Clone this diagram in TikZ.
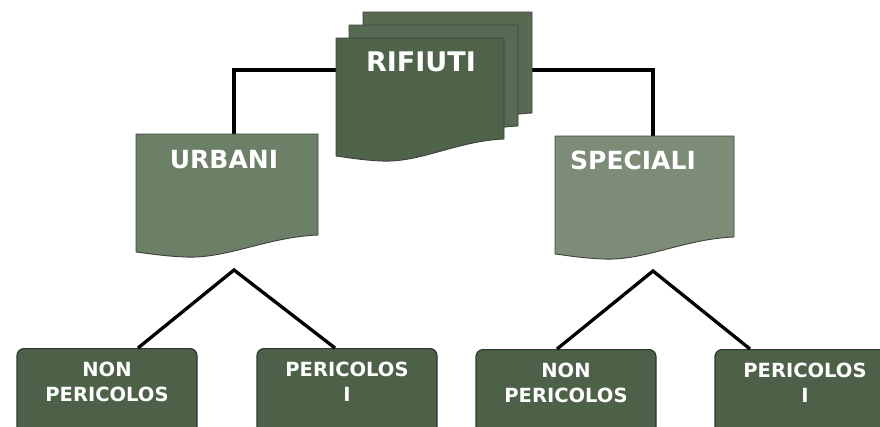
\documentclass[tikz,border=0pt]{standalone}
\usepackage{fontspec}
\setmainfont{DejaVu Sans}

\definecolor{verdescuro}{HTML}{4E6349}
\definecolor{verdefoglio}{HTML}{566B51}
\definecolor{verdeurbani}{HTML}{6C7F67}
\definecolor{verdespeciali}{HTML}{7C8C77}
\definecolor{verdebox}{HTML}{4C6147}

\tikzset{foglio/.style = {draw=black!75, line width=0.9pt},
         titolo/.style = {text=white, font=\bfseries\fontsize{25}{30}\selectfont},
         scatola/.style = {draw=black!80, line width=1.2pt, fill=verdebox,
                           rounded corners=7pt, minimum width=180pt,
                           anchor=north, align=center, inner ysep=13pt,
                           text depth=60pt, text=white,
                           font=\bfseries\fontsize{19.5}{25}\selectfont},
         ramo/.style = {line width=3.3pt, black}
        }

% documento: x, y, larghezza, colore
\newcommand\documento[4]{%
  \filldraw[foglio, fill=#4] (#1,#2) -- ({#1+#3},#2) -- ({#1+#3},{#2+101})
    .. controls ({#1+0.72*#3},{#2+103}) and ({#1+0.5*#3},{#2+125}) .. ({#1+0.27*#3},{#2+123})
    .. controls ({#1+0.14*#3},{#2+122}) and ({#1+0.05*#3},{#2+119}) .. (#1,{#2+118}) -- cycle;}

\begin{document}
\begin{tikzpicture}[x=1pt, y=-1pt]
  \path[use as bounding box, clip] (0,0) rectangle (880,426);

  \coordinate (rif sx) at (336,70);
  \coordinate (rif dx) at (532,70);
  \coordinate (urb top) at (234,134);
  \coordinate (spe top) at (653,136);
  \coordinate (urb giu) at (234,270);
  \coordinate (spe giu) at (653,271);

  \draw[ramo] (rif sx) -| (urb top);
  \draw[ramo] (rif dx) -| (spe top);

  \documento{363}{12}{169}{verdefoglio}
  \documento{349}{25}{169}{verdefoglio}
  \documento{336}{38}{168}{verdescuro}
  \documento{136}{134}{182}{verdeurbani}
  \documento{555}{136}{179}{verdespeciali}

  \node[titolo, font=\bfseries\fontsize{27}{32}\selectfont] (rifiuti) at (421,62) {RIFIUTI};
  \node[titolo] (urbani) at (224,160) {URBANI};
  \node[titolo] (speciali) at (633,160) {SPECIALI};

  \node[scatola] (urb non) at (107,348) {NON\\PERICOLOS};
  \node[scatola] (urb per) at (347,348) {PERICOLOS\\I};
  \node[scatola] (spe non) at (566,349) {NON\\PERICOLOS};
  \node[scatola] (spe per) at (805,349) {PERICOLOS\\I};

  \draw[ramo] ([xshift=31pt]urb non.north) -- (urb giu) -- ([xshift=-12pt]urb per.north);
  \draw[ramo] ([xshift=-9pt]spe non.north) -- (spe giu) -- ([xshift=-55pt]spe per.north);
\end{tikzpicture}
\end{document}
